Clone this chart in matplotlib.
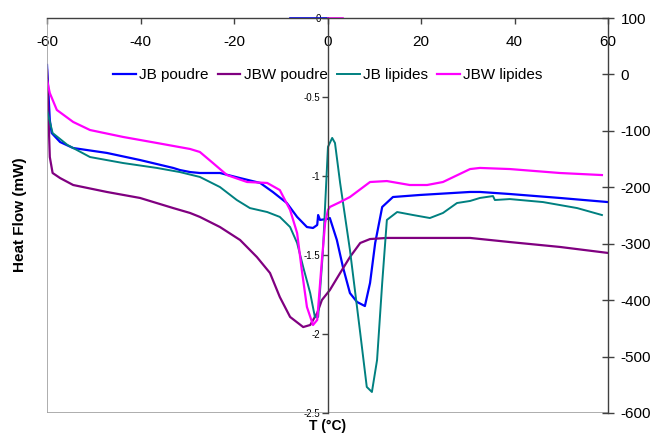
import matplotlib
matplotlib.use("Agg")
import matplotlib.pyplot as plt

plt.rcParams['font.family'] = ['Liberation Sans', 'DejaVu Sans']
plt.rcParams['axes.unicode_minus'] = False

# temperature (°C) / heat flow (mW)
jb_poudre_t = [-60.0, -59.4, -59.0, -57.2, -54.4, -47.2, -40.1, -33.0, -31.6, -29.4, -27.3, -23.0,
               -18.7, -14.4, -11.7, -8.7, -6.5, -4.4, -3.1, -2.2, -2.0, -1.6, -0.1, 0.5, 2.0, 3.3,
               4.8, 6.3, 8.0, 9.1, 10.2, 11.7, 14.0, 19.8, 30.5, 32.6, 39.0, 49.7, 60.0]
jb_poudre_q = [-0.297, -0.646, -0.728, -0.785, -0.823, -0.854, -0.899, -0.949, -0.962, -0.975, -0.981, -0.981,
               -1.013, -1.044, -1.101, -1.171, -1.259, -1.323, -1.329, -1.310, -1.247, -1.278, -1.272, -1.266, -1.405, -1.576,
               -1.741, -1.797, -1.823, -1.677, -1.424, -1.196, -1.133, -1.120, -1.101, -1.101, -1.114, -1.139, -1.165]

jbw_poudre_t = [-60.0, -59.4, -58.8, -57.2, -54.4, -47.2, -40.1, -33.0, -29.4, -27.3, -23.0, -18.7,
                -15.1, -12.3, -10.2, -8.0, -5.2, -3.7, -2.2, -1.2, 0.5, 2.7, 4.8, 7.0, 9.1, 12.7,
                19.8, 30.5, 39.0, 49.7, 60.0]
jbw_poudre_q = [-0.329, -0.880, -0.981, -1.013, -1.057, -1.101, -1.139, -1.203, -1.234, -1.259, -1.323, -1.405,
                -1.513, -1.614, -1.766, -1.892, -1.956, -1.943, -1.867, -1.785, -1.722, -1.614, -1.513, -1.424, -1.399, -1.392,
                -1.392, -1.392, -1.418, -1.449, -1.487]

jb_lipides_t = [-60.0, -58.8, -55.6, -50.8, -43.7, -36.5, -31.6, -27.3, -23.0, -19.4, -16.6, -12.9,
                -10.2, -8.0, -6.5, -5.2, -3.7, -2.7, -2.0, -1.0, 0.1, 1.0, 1.6, 2.7, 4.8, 7.0,
                8.4, 9.5, 10.6, 11.7, 12.7, 14.9, 18.3, 21.9, 24.7, 27.7, 30.5, 32.6, 35.4, 35.8,
                39.0, 46.1, 53.4, 58.7]
jb_lipides_q = [-0.582, -0.728, -0.804, -0.880, -0.918, -0.949, -0.975, -1.006, -1.070, -1.152, -1.203, -1.228,
                -1.259, -1.323, -1.424, -1.576, -1.741, -1.892, -1.892, -1.487, -0.816, -0.759, -0.791, -1.044, -1.468, -1.994,
                -2.335, -2.367, -2.165, -1.677, -1.278, -1.228, -1.247, -1.266, -1.234, -1.171, -1.158, -1.139, -1.127, -1.152,
                -1.146, -1.165, -1.203, -1.247]

jbw_lipides_t = [-60.0, -59.4, -57.9, -54.4, -50.8, -43.7, -36.5, -29.4, -27.3, -24.5, -21.5, -17.2,
                 -12.9, -10.2, -8.0, -6.5, -5.5, -4.4, -3.1, -2.2, -1.2, -0.5, 0.1, 0.5, 2.7, 4.8,
                 9.1, 12.7, 17.6, 21.3, 24.7, 30.5, 32.6, 39.0, 49.7, 58.7]
jbw_lipides_q = [-0.392, -0.475, -0.582, -0.658, -0.709, -0.753, -0.791, -0.829, -0.848, -0.918, -0.994, -1.038,
                 -1.044, -1.089, -1.215, -1.361, -1.595, -1.829, -1.943, -1.911, -1.532, -1.297, -1.215, -1.196, -1.165, -1.133,
                 -1.038, -1.032, -1.057, -1.057, -1.038, -0.956, -0.949, -0.956, -0.981, -0.994]

# stray zero points sitting on the top axis
zero_blue_t = [-8.0, 0.0]
zero_pink_t = [0.0, 3.3]

x_ticks = [-60, -40, -20, 0, 20, 40, 60]
left_ticks = [0, -0.5, -1, -1.5, -2, -2.5]
left_labels = ['0', '-0.5', '-1', '-1.5', '-2', '-2.5']
right_ticks = [100, 0, -100, -200, -300, -400, -500, -600]

fig = plt.figure(figsize=(6.52, 4.34), dpi=100)
ax = fig.add_axes([47 / 652, 1 - 413 / 434, 561 / 652, 395 / 434])

ax.plot(jb_poudre_t, jb_poudre_q, color='#0000FF', lw=1.6, label='JB poudre')
ax.plot(jbw_poudre_t, jbw_poudre_q, color='#800080', lw=1.6, label='JBW poudre')
ax.plot(jb_lipides_t, jb_lipides_q, color='#008080', lw=1.4, label='JB lipides')
ax.plot(jbw_lipides_t, jbw_lipides_q, color='#FF00FF', lw=1.6, label='JBW lipides')
ax.plot(zero_blue_t, [0, 0], color='#0000FF', lw=1.2, clip_on=False)
ax.plot(zero_pink_t, [0, 0], color='#FF00FF', lw=1.2, clip_on=False)

ax.set_xlim(-60, 60)
ax.set_ylim(-2.5, 0)

# x axis sits on y=0 (top), value axis sits on x=0
ax.spines['bottom'].set_position(('data', 0))
ax.spines['left'].set_position(('data', 0))
ax.spines['top'].set_visible(False)
ax.spines['right'].set_visible(False)
for s in ['bottom', 'left']:
    ax.spines[s].set_color('#404040')
    ax.spines[s].set_linewidth(1.0)
ax.axvline(-60, color='#a0a0a0', lw=1.2)
ax.axhline(-2.5, color='#a0a0a0', lw=1.2)

ax.set_xticks(x_ticks)
ax.tick_params(axis='x', direction='out', length=4, width=1, labelsize=11, pad=8, color='#404040')
ax.set_yticks(left_ticks)
ax.set_yticklabels(left_labels)
ax.tick_params(axis='y', direction='out', length=4, width=1, labelsize=7, pad=1, color='#404040')

ax2 = ax.twinx()
ax2.set_ylim(-600, 100)
ax2.set_yticks(right_ticks)
for s in ['top', 'bottom', 'left']:
    ax2.spines[s].set_visible(False)
ax2.spines['right'].set_color('#404040')
ax2.spines['right'].set_linewidth(1.0)
ax2.tick_params(axis='y', direction='inout', length=8, width=1, labelsize=11, pad=5, color='#404040')

ax.legend(loc='center', bbox_to_anchor=(0.5, 0.856), ncol=4, frameon=False, fontsize=11,
          handlelength=1.5, handletextpad=0.2, columnspacing=0.6, borderaxespad=0)

fig.text(20 / 652, 1 - 215 / 434, 'Heat Flow (mW)', rotation=90, ha='center', va='center',
         fontsize=11, fontweight='bold')
fig.text(328 / 652, 1 - 426 / 434, 'T (°C)', ha='center', va='center', fontsize=10, fontweight='bold')

fig.savefig('out.png', dpi=100)
